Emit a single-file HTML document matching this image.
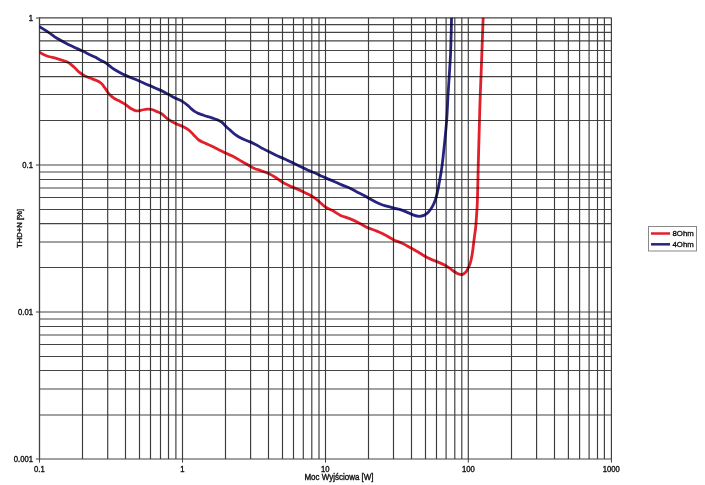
<!DOCTYPE html>
<html><head><meta charset="utf-8"><style>
html,body{margin:0;padding:0;background:#fff;}
body{width:705px;height:485px;overflow:hidden;position:relative;}
svg{position:absolute;left:0;top:0;}
text{font-family:"Liberation Sans", sans-serif;fill:#111;stroke:#111;stroke-width:0.35px;}
svg{will-change:transform;}
</style></head><body>
<svg width="705" height="485" viewBox="0 0 705 485">
<defs><clipPath id="c"><rect x="39.5" y="17.8" width="572.0" height="441.2"/></clipPath></defs>
<rect width="705" height="485" fill="#fff"/>
<g>
<g stroke="#444" stroke-width="1.2">
<line x1="39.50" y1="17.80" x2="611.50" y2="17.80"/>
<line x1="39.50" y1="24.70" x2="611.50" y2="24.70"/>
<line x1="39.50" y1="32.45" x2="611.50" y2="32.45"/>
<line x1="39.50" y1="40.80" x2="611.50" y2="40.80"/>
<line x1="39.50" y1="50.50" x2="611.50" y2="50.50"/>
<line x1="39.50" y1="62.50" x2="611.50" y2="62.50"/>
<line x1="39.50" y1="76.70" x2="611.50" y2="76.70"/>
<line x1="39.50" y1="94.50" x2="611.50" y2="94.50"/>
<line x1="39.50" y1="120.50" x2="611.50" y2="120.50"/>
<line x1="39.50" y1="165.00" x2="611.50" y2="165.00"/>
<line x1="39.50" y1="172.00" x2="611.50" y2="172.00"/>
<line x1="39.50" y1="179.50" x2="611.50" y2="179.50"/>
<line x1="39.50" y1="188.00" x2="611.50" y2="188.00"/>
<line x1="39.50" y1="197.50" x2="611.50" y2="197.50"/>
<line x1="39.50" y1="209.50" x2="611.50" y2="209.50"/>
<line x1="39.50" y1="223.70" x2="611.50" y2="223.70"/>
<line x1="39.50" y1="242.00" x2="611.50" y2="242.00"/>
<line x1="39.50" y1="267.50" x2="611.50" y2="267.50"/>
<line x1="39.50" y1="312.00" x2="611.50" y2="312.00"/>
<line x1="39.50" y1="319.00" x2="611.50" y2="319.00"/>
<line x1="39.50" y1="326.50" x2="611.50" y2="326.50"/>
<line x1="39.50" y1="335.00" x2="611.50" y2="335.00"/>
<line x1="39.50" y1="344.50" x2="611.50" y2="344.50"/>
<line x1="39.50" y1="356.50" x2="611.50" y2="356.50"/>
<line x1="39.50" y1="370.50" x2="611.50" y2="370.50"/>
<line x1="39.50" y1="389.00" x2="611.50" y2="389.00"/>
<line x1="39.50" y1="415.00" x2="611.50" y2="415.00"/>
<line x1="39.50" y1="459.00" x2="611.50" y2="459.00"/>
</g>
<g stroke="#3c3c3c" stroke-width="1.15">
<line x1="82.50" y1="17.80" x2="82.50" y2="459.00"/>
<line x1="107.70" y1="17.80" x2="107.70" y2="459.00"/>
<line x1="125.50" y1="17.80" x2="125.50" y2="459.00"/>
<line x1="139.50" y1="17.80" x2="139.50" y2="459.00"/>
<line x1="150.50" y1="17.80" x2="150.50" y2="459.00"/>
<line x1="160.50" y1="17.80" x2="160.50" y2="459.00"/>
<line x1="168.50" y1="17.80" x2="168.50" y2="459.00"/>
<line x1="175.90" y1="17.80" x2="175.90" y2="459.00"/>
<line x1="182.50" y1="17.80" x2="182.50" y2="459.00"/>
<line x1="225.50" y1="17.80" x2="225.50" y2="459.00"/>
<line x1="250.60" y1="17.80" x2="250.60" y2="459.00"/>
<line x1="268.50" y1="17.80" x2="268.50" y2="459.00"/>
<line x1="282.50" y1="17.80" x2="282.50" y2="459.00"/>
<line x1="293.50" y1="17.80" x2="293.50" y2="459.00"/>
<line x1="303.30" y1="17.80" x2="303.30" y2="459.00"/>
<line x1="311.80" y1="17.80" x2="311.80" y2="459.00"/>
<line x1="319.00" y1="17.80" x2="319.00" y2="459.00"/>
<line x1="325.50" y1="17.80" x2="325.50" y2="459.00"/>
<line x1="368.50" y1="17.80" x2="368.50" y2="459.00"/>
<line x1="393.50" y1="17.80" x2="393.50" y2="459.00"/>
<line x1="411.50" y1="17.80" x2="411.50" y2="459.00"/>
<line x1="425.50" y1="17.80" x2="425.50" y2="459.00"/>
<line x1="436.50" y1="17.80" x2="436.50" y2="459.00"/>
<line x1="446.10" y1="17.80" x2="446.10" y2="459.00"/>
<line x1="454.80" y1="17.80" x2="454.80" y2="459.00"/>
<line x1="461.80" y1="17.80" x2="461.80" y2="459.00"/>
<line x1="468.30" y1="17.80" x2="468.30" y2="459.00"/>
<line x1="511.50" y1="17.80" x2="511.50" y2="459.00"/>
<line x1="536.60" y1="17.80" x2="536.60" y2="459.00"/>
<line x1="554.50" y1="17.80" x2="554.50" y2="459.00"/>
<line x1="568.40" y1="17.80" x2="568.40" y2="459.00"/>
<line x1="579.60" y1="17.80" x2="579.60" y2="459.00"/>
<line x1="589.10" y1="17.80" x2="589.10" y2="459.00"/>
<line x1="597.50" y1="17.80" x2="597.50" y2="459.00"/>
<line x1="604.40" y1="17.80" x2="604.40" y2="459.00"/>
<line x1="611.40" y1="17.80" x2="611.40" y2="459.00"/>
</g>
<g stroke="#404040" stroke-width="1">
<line x1="39.50" y1="459.00" x2="39.50" y2="462.60"/>
<line x1="182.50" y1="459.00" x2="182.50" y2="462.60"/>
<line x1="325.50" y1="459.00" x2="325.50" y2="462.60"/>
<line x1="468.30" y1="459.00" x2="468.30" y2="462.60"/>
<line x1="611.40" y1="459.00" x2="611.40" y2="462.60"/>
<line x1="35.90" y1="18.00" x2="39.50" y2="18.00"/>
<line x1="35.90" y1="165.00" x2="39.50" y2="165.00"/>
<line x1="35.90" y1="312.00" x2="39.50" y2="312.00"/>
<line x1="35.90" y1="459.00" x2="39.50" y2="459.00"/>
<line x1="39.5" y1="17.3" x2="39.5" y2="459.5" stroke-width="1.3"/>
</g>
<g clip-path="url(#c)" style="mix-blend-mode:multiply" fill="none" stroke-width="2.8" stroke-linejoin="round" stroke-linecap="round">
<path stroke="#27247f" d="M39.4 26.6 C39.4 26.6 45.5 30.3 48.5 32.3 C51.4 34.2 54.1 36.5 57.0 38.3 C59.8 40.0 62.6 41.5 65.5 43.0 C68.3 44.5 71.1 45.8 74.0 47.2 C76.8 48.5 79.8 49.8 82.6 51.1 C85.4 52.4 88.7 54.1 91.0 55.2 C92.6 56.0 93.6 56.4 95.0 57.1 C96.7 58.0 98.6 59.2 100.5 60.2 C102.3 61.2 104.3 61.9 106.1 63.1 C108.1 64.4 109.9 66.3 112.0 67.8 C114.1 69.3 116.5 70.7 118.8 72.0 C121.0 73.2 123.3 74.4 125.6 75.4 C127.8 76.4 130.1 77.3 132.4 78.2 C134.7 79.1 137.0 80.0 139.3 81.0 C141.6 82.0 144.1 83.4 146.1 84.2 C147.6 84.8 148.7 85.0 150.0 85.6 C151.5 86.2 153.0 87.1 154.6 87.8 C156.4 88.6 158.2 89.2 160.2 90.1 C162.6 91.2 165.3 92.7 167.9 94.1 C170.4 95.4 173.0 96.9 175.5 98.2 C177.8 99.4 180.2 100.1 182.3 101.4 C184.3 102.6 186.4 104.3 188.0 105.6 C189.2 106.6 190.0 107.7 191.1 108.6 C192.1 109.5 193.1 110.4 194.2 111.2 C195.4 112.0 196.8 112.8 198.3 113.4 C199.9 114.1 201.8 114.6 203.5 115.2 C205.2 115.8 206.9 116.3 208.6 116.8 C210.3 117.4 212.2 117.9 213.8 118.5 C215.3 119.0 216.6 119.5 218.0 120.1 C219.4 120.8 220.9 121.4 222.1 122.4 C223.4 123.4 224.2 124.8 225.5 126.0 C227.0 127.5 228.9 129.1 230.6 130.6 C232.3 132.1 233.9 133.6 235.7 134.9 C237.4 136.1 239.1 137.2 240.9 138.1 C242.6 139.0 244.4 139.5 246.0 140.2 C247.5 140.8 248.6 141.2 250.2 141.9 C252.2 142.8 254.9 144.2 257.0 145.3 C258.9 146.3 260.6 147.4 262.5 148.4 C264.3 149.4 266.1 150.3 268.1 151.3 C270.3 152.4 272.6 153.7 275.0 154.8 C277.5 156.0 280.3 157.1 282.6 158.1 C284.6 159.0 286.2 159.8 288.0 160.6 C289.8 161.5 291.7 162.3 293.6 163.2 C295.6 164.2 297.7 165.4 299.6 166.3 C301.3 167.1 302.7 167.7 304.3 168.4 C305.9 169.1 307.4 169.9 309.0 170.6 C310.8 171.4 312.7 172.0 314.5 172.8 C316.2 173.6 317.8 174.4 319.6 175.2 C321.5 176.1 323.7 177.0 325.7 177.9 C327.7 178.8 329.5 179.6 331.5 180.4 C333.5 181.3 335.7 182.1 337.7 183.0 C339.5 183.8 341.2 184.7 343.0 185.4 C344.8 186.2 346.5 186.6 348.5 187.5 C351.1 188.6 354.2 190.4 357.0 191.9 C359.8 193.3 363.3 195.0 365.5 196.2 C366.9 197.0 367.6 197.5 368.9 198.3 C370.8 199.4 373.4 201.0 375.7 202.1 C378.0 203.2 380.2 204.2 382.6 205.0 C385.3 205.9 388.3 206.6 391.1 207.3 C393.9 208.0 396.9 208.6 399.6 209.4 C402.1 210.2 404.5 211.1 406.8 212.1 C409.1 213.1 411.4 214.5 413.6 215.2 C415.5 215.8 417.5 216.3 419.3 216.3 C420.9 216.3 422.4 216.0 423.8 215.4 C425.4 214.7 426.9 213.6 428.3 212.2 C429.9 210.6 431.3 208.5 432.5 206.4 C433.7 204.3 434.6 202.0 435.5 199.5 C436.5 196.7 437.1 193.4 437.8 190.4 C438.5 187.4 438.9 184.3 439.5 181.3 C440.0 178.3 440.6 175.7 441.1 172.3 C441.8 168.1 442.4 162.9 443.0 158.0 C443.6 152.7 444.1 147.4 444.7 141.6 C445.4 134.9 446.1 127.5 446.7 120.0 C447.3 111.7 447.6 101.8 448.1 94.0 C448.5 87.6 448.8 82.7 449.2 76.6 C449.6 69.8 450.1 63.3 450.5 55.0 C451.0 43.5 451.6 14.0 451.6 14.0"/>
<path stroke="#e2202c" d="M39.4 52.2 C39.4 52.2 42.4 54.1 44.0 54.8 C45.5 55.5 46.7 56.0 48.5 56.5 C50.9 57.2 54.3 57.9 57.0 58.6 C59.4 59.3 61.7 59.9 63.8 60.7 C65.6 61.4 67.3 61.9 68.9 62.9 C70.7 64.0 72.3 65.6 74.0 67.1 C75.7 68.7 77.5 70.9 79.1 72.2 C80.3 73.2 81.5 73.9 82.6 74.6 C83.5 75.2 84.0 75.6 85.0 76.1 C86.5 76.8 88.9 77.6 90.8 78.3 C92.7 79.0 94.8 79.7 96.6 80.5 C98.2 81.2 99.6 81.9 100.9 83.0 C102.3 84.2 103.4 85.8 104.5 87.3 C105.6 88.7 106.4 90.3 107.4 91.7 C108.3 93.0 109.2 94.2 110.3 95.3 C111.4 96.4 112.6 97.3 113.9 98.2 C115.3 99.1 116.8 99.7 118.5 100.6 C120.6 101.7 123.2 102.9 125.3 104.3 C127.3 105.6 129.1 107.4 131.0 108.5 C132.7 109.5 134.3 110.5 136.0 110.8 C137.6 111.1 139.2 110.6 140.9 110.3 C142.9 110.0 145.1 109.2 147.1 109.1 C148.8 109.0 150.4 109.1 152.0 109.5 C153.7 109.9 155.4 110.9 157.0 111.6 C158.7 112.4 160.3 112.9 161.9 114.0 C163.6 115.2 165.2 117.1 166.9 118.4 C168.5 119.6 170.0 120.5 171.8 121.5 C173.7 122.6 176.1 123.7 178.0 124.6 C179.7 125.3 181.1 125.6 182.7 126.4 C184.6 127.3 186.8 128.4 188.6 129.8 C190.5 131.2 192.0 133.2 193.7 134.9 C195.4 136.6 196.9 138.6 198.8 140.0 C200.6 141.3 202.8 142.1 204.8 143.0 C206.8 144.0 208.9 144.7 211.0 145.7 C213.4 146.8 216.0 148.2 218.4 149.4 C220.8 150.6 223.1 151.9 225.4 153.0 C227.7 154.1 230.0 154.9 232.4 156.1 C235.2 157.5 238.2 159.3 241.1 161.0 C244.0 162.6 247.2 164.6 249.7 166.0 C251.7 167.1 253.2 168.1 255.0 168.8 C256.7 169.5 258.1 169.7 260.0 170.3 C262.5 171.1 265.9 172.3 268.5 173.5 C270.9 174.6 273.1 175.9 275.3 177.3 C277.6 178.7 279.8 180.6 282.1 182.0 C284.3 183.3 286.6 184.3 288.9 185.4 C291.2 186.5 293.4 187.4 295.7 188.4 C298.0 189.4 300.3 190.3 302.6 191.4 C304.9 192.5 307.3 193.7 309.4 194.8 C311.2 195.8 312.8 196.6 314.5 197.8 C316.2 199.0 317.9 200.5 319.6 202.0 C321.4 203.6 323.1 205.5 325.2 206.9 C327.3 208.3 329.6 209.0 332.0 210.3 C334.7 211.8 337.6 214.0 340.5 215.4 C343.3 216.7 346.2 217.3 349.0 218.4 C351.9 219.5 354.8 220.8 357.6 222.2 C360.5 223.6 363.2 225.5 366.1 226.9 C368.9 228.2 372.3 229.4 374.6 230.3 C376.1 230.9 377.0 231.1 378.5 231.8 C380.8 232.8 384.3 234.6 387.0 236.0 C389.4 237.3 391.4 238.7 393.8 239.9 C396.4 241.2 399.5 242.0 402.3 243.3 C405.2 244.7 408.2 246.5 410.9 248.0 C413.3 249.3 415.4 250.5 417.7 251.8 C420.0 253.1 422.4 254.8 424.5 256.0 C426.3 257.0 427.6 257.7 429.6 258.6 C432.3 259.8 436.5 261.4 439.3 262.6 C441.5 263.5 443.2 264.2 445.0 265.2 C446.7 266.1 448.3 267.2 449.9 268.3 C451.6 269.5 453.2 271.0 454.9 272.0 C456.5 273.0 458.3 274.0 459.8 274.3 C460.9 274.5 462.0 274.6 462.9 274.3 C463.8 274.0 464.6 273.4 465.4 272.6 C466.3 271.7 467.1 270.3 467.8 268.9 C468.7 267.3 469.5 265.5 470.2 263.4 C471.0 260.9 471.6 257.6 472.1 254.7 C472.6 251.8 472.9 249.0 473.3 246.0 C473.7 242.8 474.1 239.3 474.5 236.1 C474.9 233.1 475.4 230.6 475.7 227.5 C476.1 223.7 476.3 218.9 476.6 215.0 C476.8 211.6 477.0 209.3 477.2 205.6 C477.5 200.1 477.6 192.0 477.8 185.0 C478.0 177.9 478.1 170.5 478.3 163.3 C478.5 156.1 478.7 148.8 478.9 141.6 C479.1 134.4 479.3 127.5 479.5 120.0 C479.7 111.7 480.0 101.8 480.3 94.0 C480.5 87.6 480.8 82.7 481.0 76.6 C481.3 69.8 481.5 63.3 481.8 55.0 C482.2 43.5 483.3 14.0 483.3 14.0"/>
</g>
<g font-size="7.7">
<text transform="translate(33.00,461.95) scale(1,1.07)" text-anchor="end">0.001</text>
<text transform="translate(33.00,314.95) scale(1,1.07)" text-anchor="end">0.01</text>
<text transform="translate(33.00,167.95) scale(1,1.07)" text-anchor="end">0.1</text>
<text transform="translate(33.00,20.95) scale(1,1.07)" text-anchor="end">1</text>
<text transform="translate(39.30,472.30) scale(1,1.07)" text-anchor="middle">0.1</text>
<text transform="translate(182.30,472.30) scale(1,1.07)" text-anchor="middle">1</text>
<text transform="translate(325.30,472.30) scale(1,1.07)" text-anchor="middle">10</text>
<text transform="translate(468.30,472.30) scale(1,1.07)" text-anchor="middle">100</text>
<text transform="translate(611.30,472.30) scale(1,1.07)" text-anchor="middle">1000</text>
<text transform="translate(339,480.0) scale(1,1.07)" text-anchor="middle" font-size="8">Moc Wyjściowa [W]</text>
<text transform="translate(22.1,228.5) rotate(-90) scale(1,1.0)" text-anchor="middle" font-size="7.7">THD+N [%]</text>
</g>
<rect x="648.5" y="226.5" width="48" height="24.5" fill="#fff" stroke="#888" stroke-width="1"/>
<line x1="651" y1="233.5" x2="670" y2="233.5" stroke="#e2202c" stroke-width="2.5"/>
<line x1="651" y1="244.3" x2="670" y2="244.3" stroke="#27247f" stroke-width="2.5"/>
<g font-size="7.8">
<text transform="translate(672.5,236.30) scale(1,1.0)">8Ohm</text>
<text transform="translate(672.5,247.10) scale(1,1.0)">4Ohm</text>
</g>
</g>
</svg>
</body></html>
